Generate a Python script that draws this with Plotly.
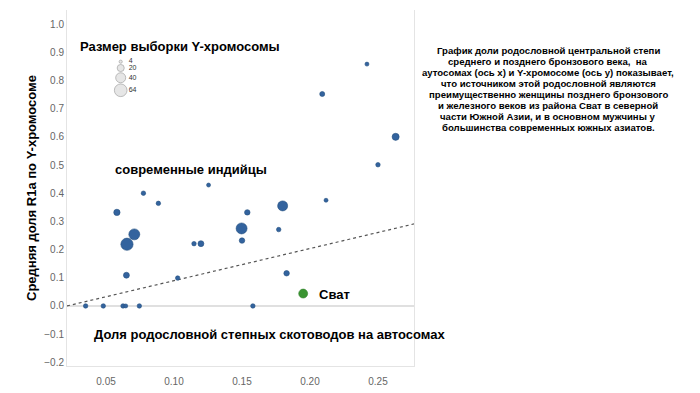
import plotly.graph_objects as go
import math

# ---- data ----
x_auto = [0.035, 0.048, 0.0625, 0.0645, 0.0745, 0.158, 0.058, 0.0654, 0.0708, 0.065,
          0.0775, 0.0885, 0.1027, 0.1147, 0.1198, 0.1254, 0.1497, 0.150, 0.1539, 0.2419,
          0.209, 0.263, 0.250, 0.2118, 0.1799, 0.177, 0.1828]
y_r1a = [0.0, 0.0, 0.0, 0.0, 0.0, 0.0, 0.332, 0.219, 0.254, 0.109,
         0.400, 0.364, 0.099, 0.221, 0.221, 0.429, 0.275, 0.232, 0.332, 0.858,
         0.752, 0.600, 0.501, 0.375, 0.355, 0.271, 0.116]
n_samples = [8, 8, 8, 6, 8, 8, 16, 60, 48, 14,
             8, 8, 8, 8, 14, 5, 48, 12, 12, 5,
             10, 20, 8, 5, 40, 8, 12]

svat_x = [0.195]
svat_y = [0.044]
svat_n = [32]

trend_x = [0.0213, 0.2765]
trend_y = [0.0, 0.291]

legend_sizes = [4, 20, 40, 64]
x_ticks = [0.05, 0.10, 0.15, 0.20, 0.25]

note_lines = [
    "График доли родословной центральной степи",
    "среднего и позднего бронзового века,  на",
    "аутосомах (ось x) и Y-хромосоме (ось y) показывает,",
    "что источником этой родословной являются",
    "преимущественно женщины позднего бронзового",
    "и железного веков из района Сват в северной",
    "части Южной Азии, и в основном мужчины у",
    "большинства современных южных азиатов.",
]

SIZEREF = 0.8
FONT = "Liberation Sans, Arial, sans-serif"
BLUE = "#33639e"
GREEN = "#3a9432"

fig = go.Figure()

fig.add_trace(go.Scatter(
    x=trend_x, y=trend_y, mode="lines",
    line=dict(color="#555555", width=1.2, dash="dot"),
    hoverinfo="skip", showlegend=False))

fig.add_trace(go.Scatter(
    x=x_auto, y=y_r1a, mode="markers",
    marker=dict(size=n_samples, sizemode="area", sizeref=SIZEREF, sizemin=2,
                color=BLUE, line=dict(color="#25507f", width=0.6), opacity=1),
    showlegend=False))

fig.add_trace(go.Scatter(
    x=svat_x, y=svat_y, mode="markers",
    marker=dict(size=svat_n, sizemode="area", sizeref=SIZEREF, opacity=1,
                color=GREEN, line=dict(color="#2f7f28", width=0.6)),
    showlegend=False))

# page offset of the figure (browser body margin)
OFF = 8
W, H = 700 - OFF, 393 - OFF
# plot area in page pixels
PL, PR, PT, PB = 67, 414, 10, 366
L, T = PL - OFF, PT - OFF
R, B = W - (PR - OFF), H - (PB - OFF)
pw, ph = PR - PL, PB - PT

# size key on an overlay axis measured in pixels from the top-left of the plot area
diam = [math.sqrt(2 * v / SIZEREF) for v in legend_sizes]
ly = [51.7]
for i in range(1, len(diam)):
    ly.append(ly[-1] + diam[i - 1] / 2 + diam[i] / 2 + 1.2)
lx = [53.7] * len(legend_sizes)
fig.add_trace(go.Scatter(
    x=lx, y=ly, xaxis="x2", yaxis="y2", mode="markers",
    marker=dict(size=legend_sizes, sizemode="area", sizeref=SIZEREF,
                color="#dcdcdc", line=dict(color="#8a8a8a", width=0.8)),
    hoverinfo="skip", showlegend=False))
fig.add_trace(go.Scatter(
    x=[v + 8 for v in lx], y=ly, xaxis="x2", yaxis="y2", mode="text",
    text=[str(s) for s in legend_sizes], textposition="middle right",
    textfont=dict(size=7, color="#333333", family=FONT),
    hoverinfo="skip", showlegend=False))


def px(xp):
    return (xp - PL) / pw


def py(yp):
    return (PB - yp) / ph


annotations = [
    dict(text="<b>Размер выборки Y-хромосомы</b>", x=px(78), y=py(46), xanchor="left",
         yanchor="middle", font=dict(size=13, color="black", family=FONT)),
    dict(text="<b>современные индийцы</b>", x=px(113), y=py(169), xanchor="left",
         yanchor="middle", font=dict(size=13, color="black", family=FONT)),
    dict(text="<b>Сват</b>", x=px(317), y=py(294), xanchor="left",
         yanchor="middle", font=dict(size=13, color="black", family=FONT)),
    dict(text="<b>Доля родословной степных скотоводов на автосомах</b>", x=px(92), y=py(334),
         xanchor="left", yanchor="middle", font=dict(size=13, color="black", family=FONT)),
    dict(text="<b>Средняя доля R1a по Y-хромосоме</b>", x=px(31), y=py(188), xanchor="center",
         yanchor="middle", textangle=-90, font=dict(size=13, color="black", family=FONT)),
]
for i, line in enumerate(note_lines):
    annotations.append(dict(text="<b>" + line + "</b>", x=px(548), y=py(50 + i * 11.1),
                            xanchor="center", yanchor="middle",
                            font=dict(size=9.6, color="black", family=FONT)))
for a in annotations:
    a.update(xref="paper", yref="paper", showarrow=False)

fig.update_layout(
    width=W, height=H,
    margin=dict(l=L, r=R, t=T, b=B),
    paper_bgcolor="white", plot_bgcolor="white",
    font=dict(family=FONT),
    xaxis=dict(range=[trend_x[0], trend_x[1]], tickvals=x_ticks, tickformat=".2f",
               showgrid=False, zeroline=False, showline=True, linecolor="#e4e4e4",
               ticks="", tickfont=dict(size=10, color="#666666"), ticklabelstandoff=6),
    yaxis=dict(range=[-0.213, 1.05], dtick=0.1, tick0=0, tickformat=".1f",
               showgrid=False, zeroline=True, zerolinecolor="#e0e0e0", zerolinewidth=1.5,
               showline=True, linecolor="#e4e4e4", mirror=True, ticks="",
               tickfont=dict(size=10, color="#666666")),
    xaxis2=dict(overlaying="x", range=[0, pw], visible=False, domain=[0, 1]),
    yaxis2=dict(overlaying="y", range=[ph, 0], visible=False),
    annotations=annotations,
)

fig.write_html("out.html")
